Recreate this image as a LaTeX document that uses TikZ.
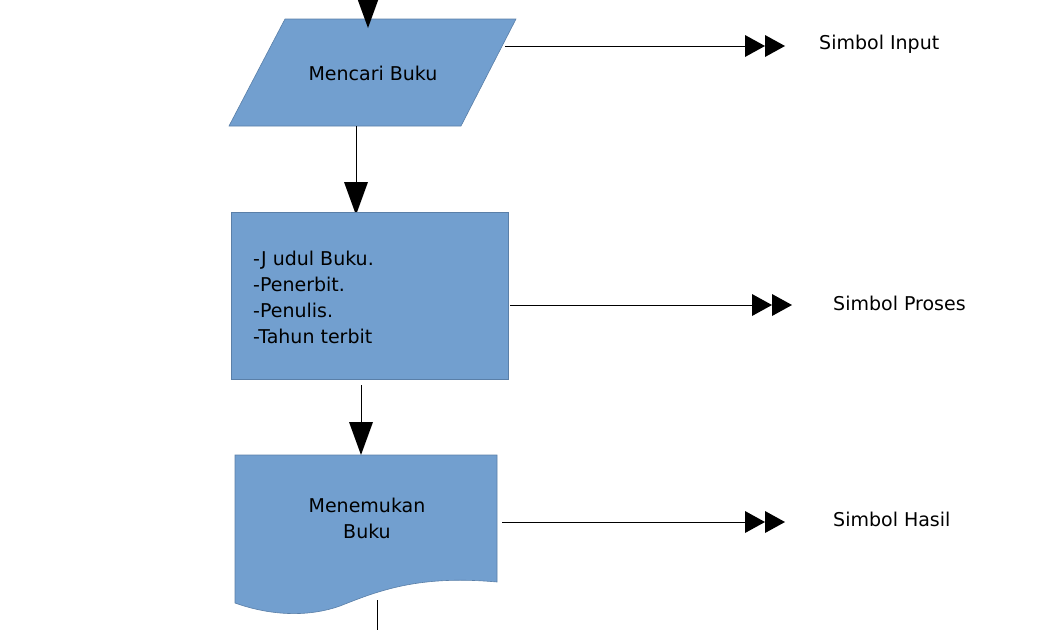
\documentclass[tikz,border=0pt]{standalone}
\usepackage{fontspec}
\setmainfont{DejaVu Sans}
\begin{document}
\begin{tikzpicture}[x=1pt,y=-1pt,
  shp/.style={fill=blue1,draw=blue2,line width=0.6pt},
  txt/.style={font=\fontsize{19}{26}\selectfont,inner sep=0pt},
  lbl/.style={font=\fontsize{19}{24}\selectfont,inner sep=0pt,anchor=west},
  ln/.style={line width=0.6pt}]
\definecolor{blue1}{HTML}{729FCF}
\definecolor{blue2}{HTML}{5A7FA8}
\useasboundingbox (0,0) rectangle (1057,630);
\newcommand{\headdown}[2]{\fill (#1-12,#2-33) -- (#1+12,#2-33) -- (#1,#2) -- cycle;}
\newcommand{\dbl}[2]{\fill (#1,#2-11) -- (#1+20,#2) -- (#1,#2+11) -- cycle;
  \fill (#1+20,#2-11) -- (#1+40,#2) -- (#1+20,#2+11) -- cycle;}
% input
\draw[shp] (285,19) -- (516,19) -- (461,126) -- (229,126) -- cycle;
\node[txt] (inp) at (373,73) {Mencari Buku};
\coordinate (top) at (368,0);
\draw[ln] (top) -- (368,10); \headdown{368}{28}
\coordinate (i1) at (505,46); \coordinate (i2) at (760,46);
\draw[ln] (i1) -- (i2); \dbl{745}{46}
\node[lbl] (li) at (819,44) {Simbol Input};
% arrow to process
\coordinate (a1) at (356,126); \coordinate (a2) at (356,195);
\draw[ln] (a1) -- (a2); \headdown{356}{215}
% process
\draw[shp] (231,212) rectangle (508,379);
\node[txt,anchor=west,align=left] (pr) at (253,297) {-J udul Buku.\\-Penerbit.\\-Penulis.\\-Tahun terbit};
\coordinate (p1) at (510,305); \coordinate (p2) at (765,305);
\draw[ln] (p1) -- (p2); \dbl{752}{305}
\node[lbl] (lp) at (833,303) {Simbol Proses};
% arrow to document
\coordinate (b1) at (361,385); \coordinate (b2) at (361,440);
\draw[ln] (b1) -- (b2); \headdown{361}{455}
% document
\draw[shp] (235,455) -- (497,455) -- (497,582)
  .. controls (420,575) and (380,590) .. (340,606)
  .. controls (300,620) and (260,612) .. (235,603) -- cycle;
\node[txt,align=center] (doc) at (367,518) {Menemukan\\Buku};
\coordinate (d1) at (502,522); \coordinate (d2) at (760,522);
\draw[ln] (d1) -- (d2); \dbl{745}{522}
\node[lbl] (ld) at (833,519) {Simbol Hasil};
\coordinate (e1) at (377,600); \coordinate (e2) at (377,630);
\draw[ln] (e1) -- (e2);
\end{tikzpicture}
\end{document}
